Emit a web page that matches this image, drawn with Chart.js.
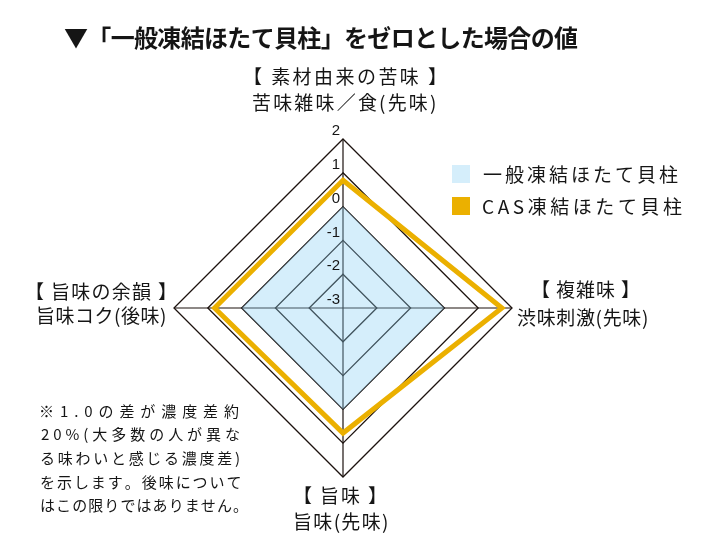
<!DOCTYPE html>
<html>
<head>
<meta charset="utf-8">
<script src="https://cdn.jsdelivr.net/npm/chart.js@4.4.0/dist/chart.umd.min.js"></script>
<style>
  html, body { margin: 0; background: #fff; }
</style>
</head>
<body>
<canvas id="radarChart" width="720" height="559"></canvas>
<script>
// data
const categories = [
    ['【 素材由来の苦味 】', '苦味雑味／食(先味)'],
    ['【 複雑味 】', '渋味刺激(先味)'],
    ['【 旨味 】', '旨味(先味)'],
    ['【 旨味の余韻 】', '旨味コク(後味)']
];
const seriesNames = ['一般凍結ほたて貝柱', 'CAS凍結ほたて貝柱'];
const normalValues = [0, 0, 0, 0];
const casValues = [0.78, 1.7, 0.7, 0.8];
const tickValues = [-3, -2, -1, 0, 1, 2];
const titleText = '▼「一般凍結ほたて貝柱」をゼロとした場合の値';
const noteLines = [
    '※1.0の差が濃度差約',
    '20%(大多数の人が異な',
    'る味わいと感じる濃度差)',
    'を示します。後味について',
    'はこの限りではありません。'
];

const jp = '"Noto Sans CJK JP", "Noto Sans", sans-serif';
const ink = '#151515';
const lineColor = '#1c120e';

// spreads the characters so the ink fills the given width
function drawJustified(ctx, text, left, width, y) {
    const chars = [...text];
    const m = ctx.measureText(text);
    const inkW = m.actualBoundingBoxLeft + m.actualBoundingBoxRight;
    const gap = chars.length > 1 ? (width - inkW) / (chars.length - 1) : 0;
    let x = left + m.actualBoundingBoxLeft;
    chars.forEach(c => {
        ctx.fillText(c, x, y);
        x += ctx.measureText(c).width + gap;
    });
}

// label boxes per axis: [dx, dy, width] from the outer vertex
const labelBoxes = [
    [[2, -62, 180], [1, -36, 182]],
    [[73.5, -18, 85], [70, 10, 130]],
    [[-3, 19, 70], [-2, 45, 92]],
    [[-73, -16, 128], [-72.5, 8, 127]]
];

const textPlugin = {
    id: 'textPlugin',
    afterDraw(chart) {
        const ctx = chart.ctx;
        const r = chart.scales.r;
        ctx.save();
        ctx.fillStyle = ink;
        ctx.textAlign = 'left';
        ctx.textBaseline = 'middle';

        // title
        ctx.font = 'bold 24px ' + jp;
        drawJustified(ctx, titleText, 64, 514, 38);

        // axis labels
        ctx.font = '19px ' + jp;
        chart.data.labels.forEach((lines, i) => {
            const v = r.getPointPositionForValue(i, r.max);
            lines.forEach((line, k) => {
                const [dx, dy, w] = labelBoxes[i][k];
                drawJustified(ctx, line, v.x + dx - w / 2, w, v.y + dy);
            });
        });

        // tick labels left of the vertical axis
        ctx.font = '15px "Liberation Sans", Arial, sans-serif';
        ctx.textAlign = 'right';
        tickValues.forEach(t => {
            const p = r.getPointPositionForValue(0, t);
            ctx.fillText(String(t), p.x - 3, p.y - 8);
        });
        ctx.textAlign = 'left';

        // legend
        const ds = chart.data.datasets;
        const swatch = [ds[0].backgroundColor, ds[1].borderColor];
        const legendW = [195, 199];
        ds.forEach((d, i) => {
            const y = 165 + i * 32;
            ctx.fillStyle = swatch[i];
            ctx.fillRect(452, y, 18, 18);
            ctx.fillStyle = ink;
            ctx.font = '19px ' + jp;
            drawJustified(ctx, d.label, 483, legendW[i], y + 10);
        });

        // note
        ctx.font = '15px ' + jp;
        noteLines.forEach((line, i) => {
            drawJustified(ctx, line, 41, 198, 411 + i * 23.6);
        });
        ctx.restore();
    }
};

const ctx = document.getElementById('radarChart').getContext('2d');

const radarChart = new Chart(ctx, {
    type: 'radar',
    data: {
        labels: categories,
        datasets: [
            {
                label: seriesNames[0],
                data: normalValues,
                backgroundColor: 'rgba(135, 206, 244, 0.35)',
                borderColor: 'transparent',
                borderWidth: 1,
                fill: 'start',
                pointRadius: 0,
                order: 1
            },
            {
                label: seriesNames[1],
                data: casValues,
                borderColor: '#ebb000',
                borderWidth: 5,
                borderJoinStyle: 'miter',
                fill: false,
                pointRadius: 0,
                order: 0
            }
        ]
    },
    options: {
        responsive: false,
        animation: false,
        layout: {
            padding: { left: 174, right: 208, top: 139, bottom: 82 }
        },
        plugins: {
            legend: { display: false },
            tooltip: { enabled: false }
        },
        scales: {
            r: {
                min: -3,
                max: 2,
                ticks: { display: false, stepSize: 1 },
                pointLabels: { display: false },
                grid: { color: lineColor, lineWidth: 1.3, circular: false },
                angleLines: { color: lineColor, lineWidth: 1.2 }
            }
        }
    },
    plugins: [textPlugin]
});
</script>
</body>
</html>
